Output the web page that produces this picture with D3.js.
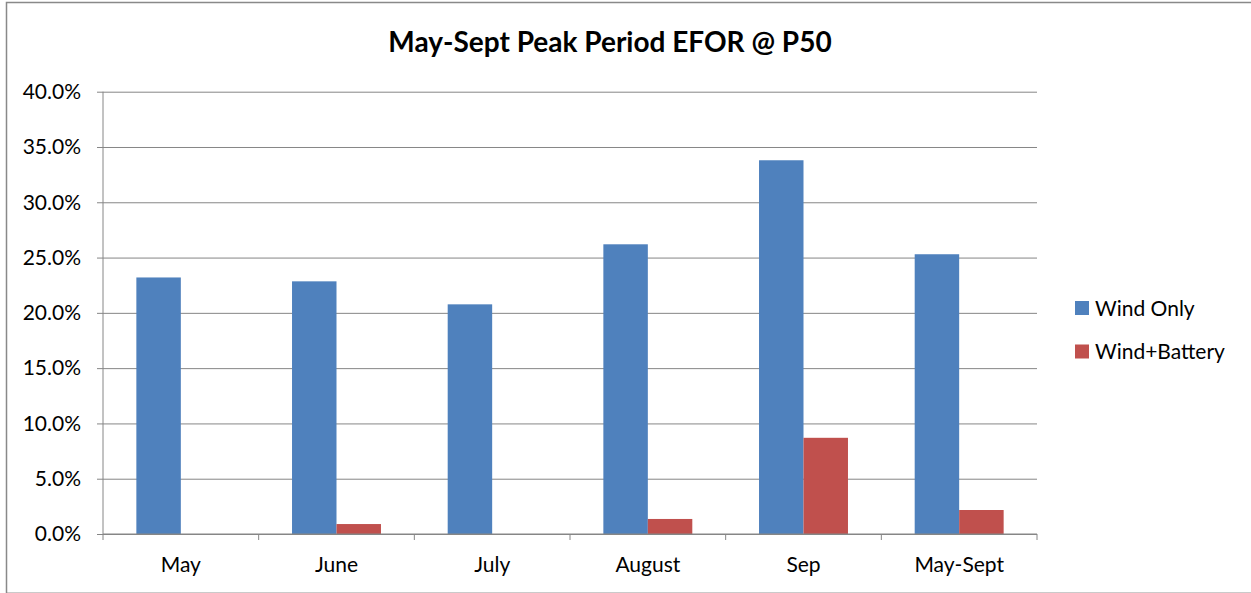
<!DOCTYPE html>
<html>
<head>
<meta charset="utf-8">
<script src="https://cdn.jsdelivr.net/npm/d3@7"></script>
<style>
  html, body { margin: 0; padding: 0; background: #fff; }
  svg { display: block; font-family: Lato, "Noto Sans", sans-serif; }
</style>
</head>
<body>
<svg id="chart" width="1251" height="593"></svg>
<script>
const categories = ["May", "June", "July", "August", "Sep", "May-Sept"];
const seriesNames = ["Wind Only", "Wind+Battery"];
const windOnly = [23.2, 22.85, 20.77, 26.2, 33.8, 25.3];
const windBattery = [0, 0.9, 0, 1.36, 8.7, 2.17];
const yTicks = [0, 5, 10, 15, 20, 25, 30, 35, 40];
const title = "May-Sept Peak Period EFOR @ P50";
const colors = ["#4F81BD", "#C0504D"];

const svg = d3.select("#chart");
const W = 1251, H = 593;
const plot = { left: 103, right: 1037, top: 91.7, bottom: 534 };

// outer border
svg.append("rect")
  .attr("x", 6.5).attr("y", 2.5)
  .attr("width", W + 10).attr("height", 590.8)
  .attr("fill", "#fff").attr("stroke", "#898989").attr("stroke-width", 1.5);

const x = d3.scaleBand().domain(categories).range([plot.left, plot.right]).paddingInner(0).paddingOuter(0);
const xs = d3.scaleBand().domain(seriesNames)
  .range([0, x.bandwidth()]).paddingInner(0).paddingOuter(0.75);
const y = d3.scaleLinear().domain([0, 40]).range([plot.bottom, plot.top]);

// gridlines
const gridG = svg.append("g").attr("transform", `translate(${plot.left},0)`)
  .call(d3.axisLeft(y).tickValues(yTicks).tickSize(-(plot.right - plot.left)).tickFormat(""));
gridG.select(".domain").remove();
gridG.selectAll("line").attr("stroke", "#868686").attr("stroke-width", 1);

// bars
const data = categories.map((c, i) => ({ cat: c, vals: [windOnly[i], windBattery[i]] }));
const groups = svg.append("g").selectAll("g").data(data).join("g")
  .attr("transform", d => `translate(${x(d.cat)},0)`);
groups.selectAll("rect").data(d => d.vals.map((v, j) => ({ v, s: seriesNames[j], j })))
  .join("rect")
  .attr("x", d => xs(d.s))
  .attr("width", xs.bandwidth())
  .attr("y", d => y(d.v))
  .attr("height", d => y(0) - y(d.v))
  .attr("fill", d => colors[d.j]);

// y axis
const yAxis = svg.append("g").attr("transform", `translate(${plot.left},0)`)
  .call(d3.axisLeft(y).tickValues(yTicks).tickSize(6).tickPadding(16)
    .tickFormat(d => d.toFixed(1) + "%"));
yAxis.select(".domain").attr("stroke", "#868686").attr("d", `M0,${plot.top}V${plot.bottom}`);
yAxis.selectAll(".tick line").attr("stroke", "#868686");
yAxis.selectAll("text").attr("fill", "#000").style("font-size", "21px").attr("font-family", "Lato");

// x axis
const xAxis = svg.append("g").attr("transform", `translate(0,${plot.bottom})`)
  .call(d3.axisBottom(x).tickSize(0).tickPadding(23));
xAxis.select(".domain").attr("stroke", "#868686").attr("d", `M${plot.left},0H${plot.right}`);
xAxis.selectAll("text").attr("fill", "#000").style("font-size", "21px").attr("font-family", "Lato");
// boundary tick marks
const bounds = categories.map(c => x(c)).concat([plot.right]);
xAxis.selectAll(".bound").data(bounds).join("line")
  .attr("x1", d => d).attr("x2", d => d).attr("y1", 0).attr("y2", 6)
  .attr("stroke", "#868686");

// title
svg.append("text").attr("x", 610).attr("y", 52).attr("text-anchor", "middle")
  .attr("font-weight", "bold").style("font-size", "28px").text(title);

// legend
const leg = svg.append("g").selectAll("g").data(seriesNames).join("g")
  .attr("transform", (d, i) => `translate(1075,${301 + i * 43.5})`);
leg.append("rect").attr("width", 14).attr("height", 14).attr("fill", (d, i) => colors[i]);
leg.append("text").attr("x", 20).attr("y", 14.5).style("font-size", "21px").text(d => d);
</script>
</body>
</html>
